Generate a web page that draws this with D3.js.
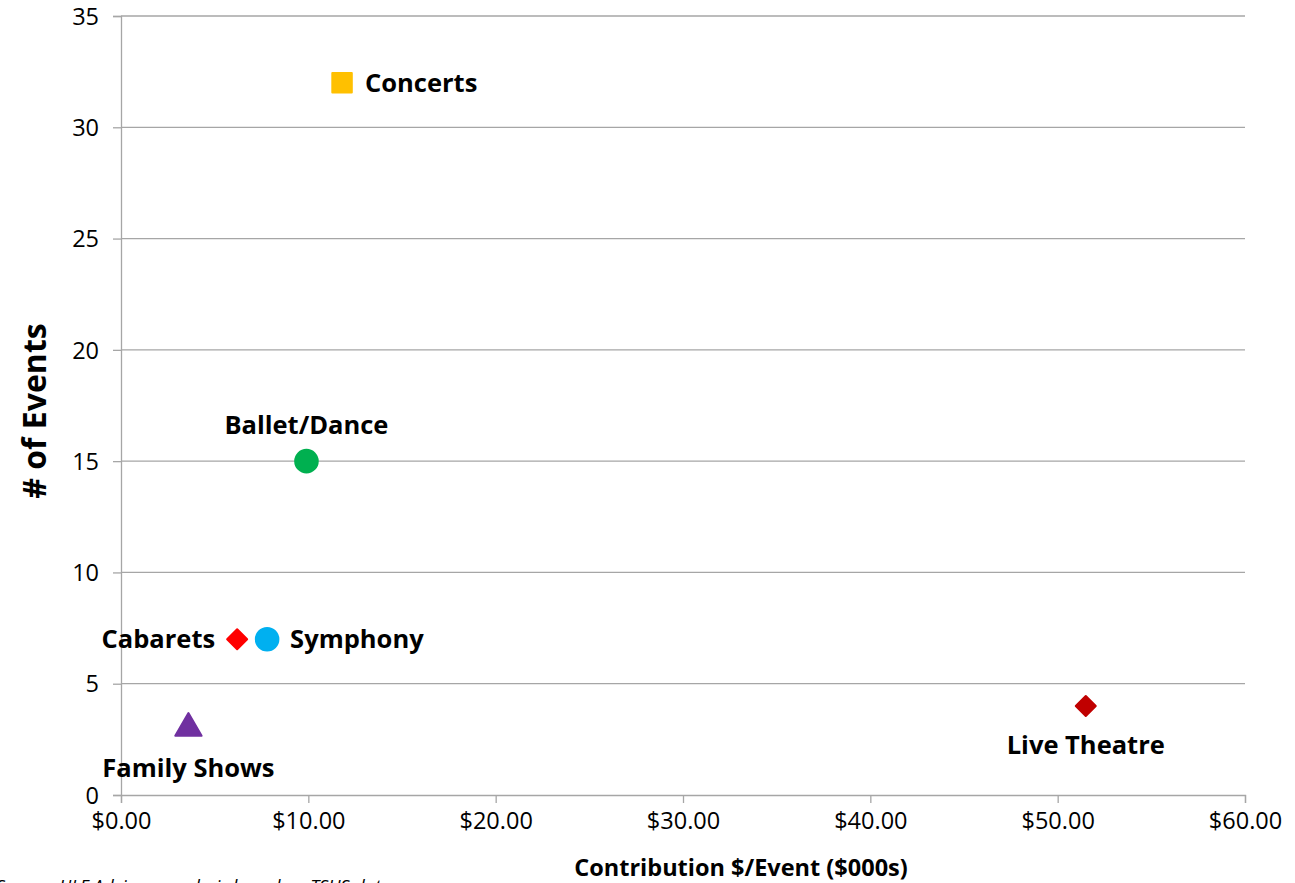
<!DOCTYPE html>
<html>
<head>
<meta charset="utf-8">
<script src="https://cdn.jsdelivr.net/npm/d3@7"></script>
<style>
  body { margin: 0; background: #fff; }
  svg { font-family: "Open Sans", sans-serif; }
</style>
</head>
<body>
<svg id="chart" width="1295" height="883"></svg>
<script>
const names = ['Concerts', 'Ballet/Dance', 'Cabarets', 'Symphony', 'Family Shows', 'Live Theatre'];
const contribution = [11.8, 9.9, 6.2, 7.8, 3.6, 51.5];
const events = [32, 15, 7, 7, 3, 4];
const symbols = ['square', 'circle', 'diamond', 'circle', 'triangle', 'diamond'];
const colors = ['#ffc000', '#00b050', '#ff0000', '#00b0f0', '#7030a0', '#c00000'];
// label placement relative to the marker
const labelPos = ['right', 'above', 'left', 'right', 'below', 'below'];

const xTicks = [0, 10, 20, 30, 40, 50, 60];
const yTicks = [0, 5, 10, 15, 20, 25, 30, 35];

const margin = { left: 121, right: 50, top: 16, bottom: 88 };
const W = 1295, H = 883;

const svg = d3.select('#chart');
const x = d3.scaleLinear().domain([0, 60]).range([margin.left, W - margin.right]);
const y = d3.scaleLinear().domain([0, 35]).range([H - margin.bottom, margin.top]);

const gridColor = '#a6a6a6';

// horizontal gridlines
svg.append('g')
    .selectAll('line')
    .data(yTicks.slice(1))
    .join('line')
    .attr('x1', x(0)).attr('x2', x(60))
    .attr('y1', d => y(d)).attr('y2', d => y(d))
    .attr('stroke', gridColor).attr('stroke-width', 1.3);

const xAxis = svg.append('g')
    .attr('transform', `translate(0,${y(0)})`)
    .call(d3.axisBottom(x).tickValues(xTicks).tickSize(8).tickPadding(9)
        .tickFormat(d => '$' + d3.format('.2f')(d)));
const yAxis = svg.append('g')
    .attr('transform', `translate(${x(0)},0)`)
    .call(d3.axisLeft(y).tickValues(yTicks).tickSize(8).tickPadding(14));

[xAxis, yAxis].forEach(ax => {
    ax.select('.domain').attr('stroke', gridColor).attr('stroke-width', 1.3);
    ax.selectAll('.tick line').attr('stroke', gridColor).attr('stroke-width', 1.3);
    ax.selectAll('text').attr('fill', '#000').style('font-size', '23.5px')
        .style('font-family', '"Open Sans", sans-serif');
});
yAxis.selectAll('text').attr('dy', '0.35em');

// axis titles
svg.append('text')
    .attr('x', 741).attr('y', 876)
    .attr('text-anchor', 'middle')
    .style('font-size', '23.5px').style('font-weight', 'bold')
    .text('Contribution $/Event ($000s)');

svg.append('text')
    .attr('transform', `translate(46,411) rotate(-90)`)
    .attr('text-anchor', 'middle')
    .style('font-size', '32px').style('font-weight', 'bold')
    .text('# of Events');

const shapeOf = {
    square: d3.symbolSquare,
    circle: d3.symbolCircle,
    diamond: d3.symbolSquare,
    triangle: d3.symbolTriangle
};
const sizeOf = { square: 380, circle: 400, diamond: 200, triangle: 300 };

const pts = names.map((n, i) => ({
    name: n, cx: contribution[i], cy: events[i],
    sym: symbols[i], color: colors[i], pos: labelPos[i]
}));

svg.append('g')
    .selectAll('path')
    .data(pts)
    .join('path')
    .attr('transform', d => `translate(${x(d.cx)},${y(d.cy)})` + (d.sym === 'diamond' ? ' rotate(45)' : ''))
    .attr('d', d => d3.symbol(shapeOf[d.sym], sizeOf[d.sym])())
    .attr('fill', d => d.color)
    .attr('stroke', d => d.color)
    .attr('stroke-width', 2)
    .attr('stroke-linejoin', 'round');

svg.append('g')
    .selectAll('text')
    .data(pts)
    .join('text')
    .attr('x', d => {
        if (d.pos === 'right') return x(d.cx) + 23;
        if (d.pos === 'left') return x(d.cx) - 22;
        return x(d.cx);
    })
    .attr('y', d => {
        if (d.pos === 'above') return y(d.cy) - 36;
        if (d.pos === 'below') return y(d.cy) + (d.name === 'Family Shows' ? 40 : 39);
        return y(d.cy);
    })
    .attr('dy', '0.36em')
    .attr('text-anchor', d => d.pos === 'right' ? 'start' : d.pos === 'left' ? 'end' : 'middle')
    .style('font-size', '25.5px').style('font-weight', 'bold')
    .text(d => d.name);

// source note, clipped at the bottom edge like the original
svg.append('text')
    .attr('x', -4).attr('y', 893)
    .style('font-size', '18px').style('font-style', 'italic')
    .text('Source: HLF Advisory analysis based on TSUS data');
</script>
</body>
</html>
